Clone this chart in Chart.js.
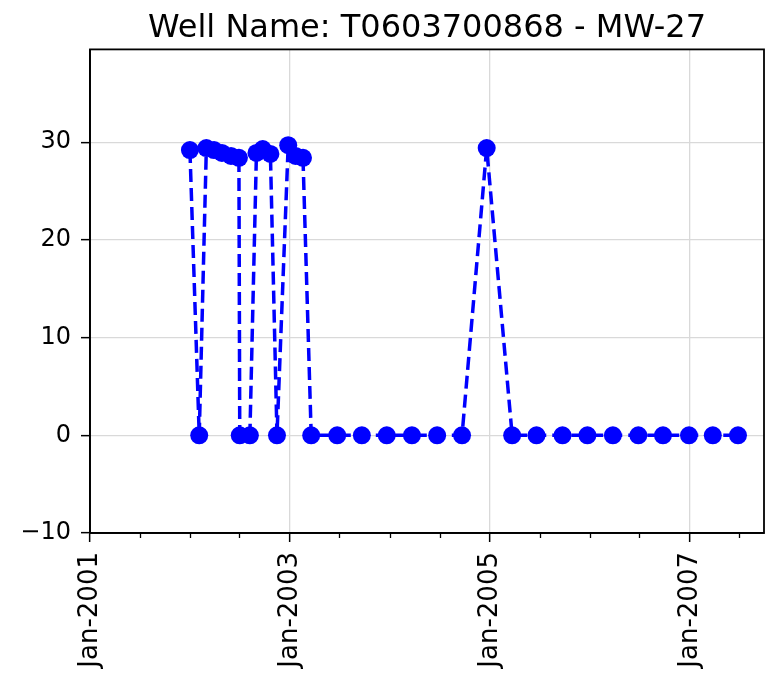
<!DOCTYPE html>
<html>
<head>
<meta charset="utf-8">
<script src="https://cdn.jsdelivr.net/npm/chart.js@4.4.1/dist/chart.umd.min.js"></script>
<style>
  html, body { margin: 0; padding: 0; background: #ffffff; }
  #wrap { width: 766px; height: 675px; position: relative; }
</style>
</head>
<body>
<div id="wrap"><canvas id="c" width="766" height="675"></canvas></div>
<script>
const titleText = 'Well Name: T0603700868 - MW-27';
const sampleDates = ['2002-01-01','2002-02-04','2002-03-02','2002-03-30','2002-04-28','2002-05-31','2002-06-29','2002-07-02','2002-08-08','2002-09-01','2002-09-24','2002-10-22','2002-11-15','2002-12-26','2003-01-22','2003-02-18','2003-03-20','2003-06-23','2003-09-21','2003-12-21','2004-03-22','2004-06-22','2004-09-21','2004-12-20','2005-03-23','2005-06-20','2005-09-23','2005-12-23','2006-03-26','2006-06-27','2006-09-25','2006-12-29','2007-03-26','2007-06-26'];
const sampleValues = [29.2, 0, 29.4, 29.2, 28.9, 28.6, 28.4, 0, 0, 28.9, 29.3, 28.8, 0, 29.7, 28.6, 28.4, 0, 0, 0, 0, 0, 0, 0, 29.4, 0, 0, 0, 0, 0, 0, 0, 0, 0, 0];
const majorTickLabels = ['Jan-2001', 'Jan-2003', 'Jan-2005', 'Jan-2007'];
const yTickValues = [-10, 0, 10, 20, 30];

const FONT = "'DejaVu Sans', sans-serif";
const xMin = Date.UTC(2001, 0, 1);
const xMax = Date.UTC(2007, 8, 29);
const MON = ['Jan','Feb','Mar','Apr','May','Jun','Jul','Aug','Sep','Oct','Nov','Dec'];

function tickLabel(v) {
  const d = new Date(v);
  return MON[d.getUTCMonth()] + '-' + d.getUTCFullYear();
}
function isMajor(v) {
  return majorTickLabels.indexOf(tickLabel(v)) >= 0;
}

const points = sampleDates.map((s, i) => ({ x: Date.parse(s), y: sampleValues[i] }));

const framePlugin = {
  id: 'frame',
  afterDatasetsDraw(chart) {
    const { ctx, chartArea: a } = chart;
    const xs = chart.scales.x;
    ctx.save();
    ctx.strokeStyle = '#000';
    ctx.lineWidth = 1.3;
    xs.ticks.forEach(t => {
      if (!isMajor(t.value)) {
        const px = Math.round(xs.getPixelForValue(t.value)) + 0.5;
        ctx.beginPath();
        ctx.moveTo(px, a.bottom);
        ctx.lineTo(px, a.bottom + 5);
        ctx.stroke();
      }
    });
    ctx.lineWidth = 1.8;
    ctx.strokeRect(a.left, a.top, a.right - a.left, a.bottom - a.top);
    ctx.restore();
  }
};

new Chart(document.getElementById('c'), {
  type: 'line',
  data: {
    datasets: [{
      data: points,
      borderColor: '#0000ff',
      backgroundColor: '#0000ff',
      borderWidth: 3.5,
      borderDash: [13, 6],
      pointRadius: 9,
      pointBorderWidth: 0,
      pointBackgroundColor: '#0000ff',
      pointBorderColor: '#0000ff',
      tension: 0,
      fill: false,
      clip: false
    }]
  },
  options: {
    responsive: false,
    animation: false,
    layout: { autoPadding: false, padding: { left: 0, right: 2, top: 0, bottom: 0 } },
    plugins: {
      legend: { display: false },
      tooltip: { enabled: false },
      title: {
        display: true,
        fullSize: false,
        text: titleText,
        color: '#000',
        font: { family: FONT, size: 32, weight: 'normal' },
        padding: { top: 9, bottom: 2 }
      }
    },
    scales: {
      x: {
        type: 'linear',
        min: xMin,
        max: xMax,
        afterBuildTicks(scale) {
          const ticks = [];
          for (let y = 2001; y <= 2007; y++) {
            for (const m of [0, 6]) {
              const v = Date.UTC(y, m, 1);
              if (v >= xMin && v <= xMax) ticks.push({ value: v });
            }
          }
          scale.ticks = ticks;
        },
        afterFit(scale) {
          scale.height = 142;
          scale.paddingLeft = 0;
          scale.paddingRight = 0;
        },
        ticks: {
          autoSkip: false,
          minRotation: 90,
          maxRotation: 90,
          padding: 10,
          color: '#000',
          font: { family: FONT, size: 26 },
          callback(v) { return isMajor(v) ? tickLabel(v) : ''; }
        },
        grid: {
          drawTicks: true,
          tickLength: 9,
          lineWidth: 1.3,
          tickWidth: 1.5,
          color: ctx => (ctx.tick && isMajor(ctx.tick.value)) ? '#d9d9d9' : 'rgba(0,0,0,0)',
          tickColor: ctx => (ctx.tick && isMajor(ctx.tick.value)) ? '#000' : 'rgba(0,0,0,0)'
        },
        border: { display: true, color: '#000', width: 1.8 }
      },
      y: {
        type: 'linear',
        min: -10,
        max: 39.5,
        afterBuildTicks(scale) {
          scale.ticks = yTickValues.map(v => ({ value: v }));
        },
        afterFit(scale) {
          scale.width = 90;
          scale.paddingTop = 0;
          scale.paddingBottom = 0;
        },
        ticks: {
          padding: 10,
          color: '#000',
          font: { family: FONT, size: 24 },
          callback(v) { return v < 0 ? '\u2212' + Math.abs(v) : String(v); }
        },
        grid: {
          drawTicks: true,
          tickLength: 9,
          lineWidth: 1.3,
          tickWidth: 1.5,
          color: '#d9d9d9',
          tickColor: '#000'
        },
        border: { display: true, color: '#000', width: 1.8 }
      }
    }
  },
  plugins: [framePlugin]
});
</script>
</body>
</html>
